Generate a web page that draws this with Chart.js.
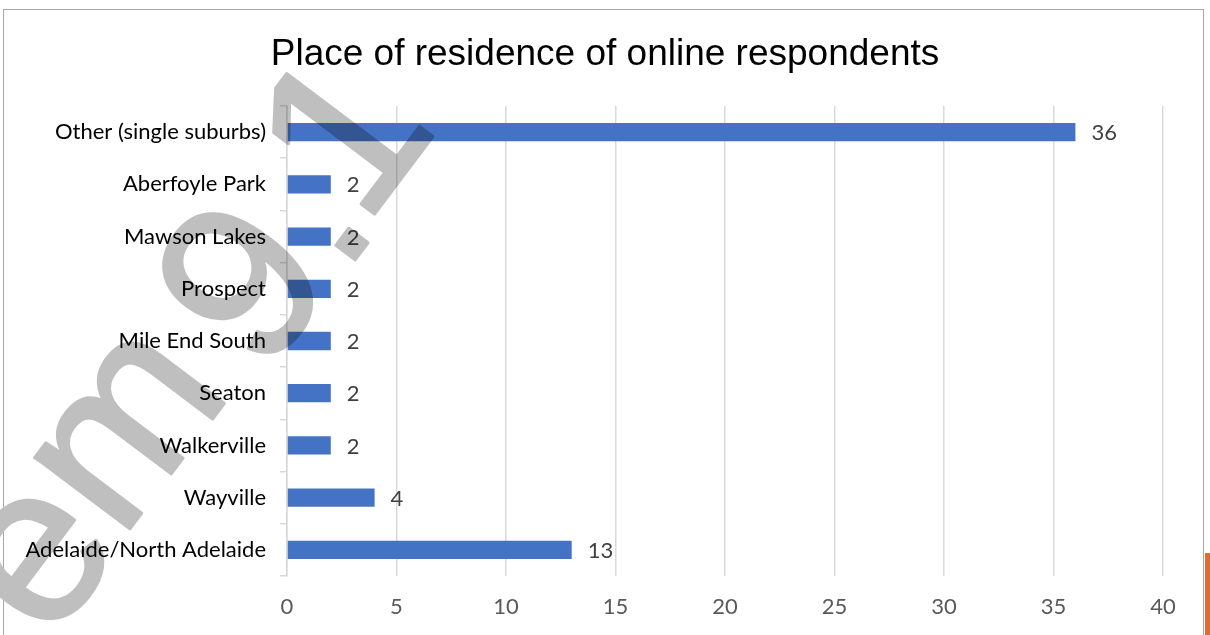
<!DOCTYPE html>
<html>
<head>
<meta charset="utf-8">
<script src="https://cdn.jsdelivr.net/npm/chart.js@4.4.1/dist/chart.umd.min.js"></script>
<style>
  html, body { margin: 0; padding: 0; background: #fff; }
  #wrap { position: relative; width: 1210px; height: 635px; overflow: hidden; }
  #frame { position: absolute; left: 3px; top: 9px; width: 1199px; height: 640px; border: 1px solid #a6a6a6; }
  #edge { position: absolute; left: 1205px; top: 553px; width: 5px; height: 82px; background: #e06c35; }
  canvas { position: absolute; left: 0; top: 0; }
</style>
</head>
<body>
<div id="wrap">
  <div id="frame"></div>
  <div id="edge"></div>
  <canvas id="myChart" width="1210" height="635"></canvas>
</div>
<script>
// place of residence, top to bottom
var suburbs = [
  'Other (single suburbs)',
  'Aberfoyle Park',
  'Mawson Lakes',
  'Prospect',
  'Mile End South',
  'Seaton',
  'Walkerville',
  'Wayville',
  'Adelaide/North Adelaide',
];
var respondents = [36, 2, 2, 2, 2, 2, 2, 4, 13];
var xTicks = [0, 5, 10, 15, 20, 25, 30, 35, 40];

var chartTitle = 'Place of residence of online respondents';
var labelFont = 'Lato, "Open Sans", sans-serif';

// title centred on the whole canvas, not just the plot
var titleText = {
  id: 'titleText',
  afterDraw: function (chart) {
    var ctx = chart.ctx;
    ctx.save();
    ctx.font = '37px "Liberation Sans", Arial, sans-serif';
    ctx.fillStyle = '#000';
    ctx.textAlign = 'center';
    ctx.textBaseline = 'alphabetic';
    ctx.fillText(chartTitle, chart.width / 2, 65);
    ctx.restore();
  },
};

// numbers at the end of each bar
var valueLabels = {
  id: 'valueLabels',
  afterDatasetsDraw: function (chart) {
    var ctx = chart.ctx;
    var meta = chart.getDatasetMeta(0);
    ctx.save();
    ctx.font = '22px ' + labelFont;
    ctx.fillStyle = '#404040';
    ctx.textAlign = 'left';
    ctx.textBaseline = 'middle';
    meta.data.forEach(function (bar, i) {
      ctx.fillText(String(respondents[i]), bar.x + 16, bar.y + 1);
    });
    ctx.restore();
  },
};

// grey stamp running diagonally over the left side
var stamp = {
  id: 'stamp',
  afterDraw: function (chart) {
    // glyph, position along the slant, baseline
    var glyphs = [['e', -423, 428], ['m', -266, 422], ['9', -80, 438], ['.', 17, 440], ['1', 100, 428]];
    var off = document.createElement('canvas');
    off.width = chart.width;
    off.height = chart.height;
    var o = off.getContext('2d');
    o.rotate(-53 * Math.PI / 180);
    o.font = '225px "Liberation Sans", Arial, sans-serif';
    o.fillStyle = '#bfbfbf';
    o.strokeStyle = '#bfbfbf';
    o.lineWidth = 3;
    o.lineJoin = 'round';
    o.textAlign = 'center';
    o.textBaseline = 'alphabetic';
    glyphs.forEach(function (g) {
      o.fillText(g[0], g[1], g[2]);
      o.strokeText(g[0], g[1], g[2]);
    });

    var ctx = chart.ctx;
    ctx.save();
    ctx.globalCompositeOperation = 'multiply';
    ctx.drawImage(off, 0, 0);
    ctx.restore();
  },
};

var ctx = document.getElementById('myChart').getContext('2d');
var myChart = new Chart(ctx, {
  type: 'bar',
  data: {
    labels: suburbs,
    datasets: [
      {
        label: 'Respondents',
        data: respondents,
        backgroundColor: '#4472c4',
        barPercentage: 0.7,
        categoryPercentage: 0.5,
      },
    ],
  },
  options: {
    indexAxis: 'y',
    responsive: false,
    animation: false,
    layout: {
      padding: { top: 106, right: 47, bottom: 0, left: 0 },
    },
    plugins: {
      legend: { display: false },
      tooltip: { enabled: false },
      title: { display: false },
    },
    scales: {
      x: {
        min: 0,
        max: 40,
        afterBuildTicks: function (scale) {
          scale.ticks = xTicks.map(function (v) { return { value: v }; });
        },
        afterFit: function (scale) {
          scale.height = 59;
        },
        ticks: {
          color: '#595959',
          font: { family: labelFont, size: 22 },
          padding: 18,
          maxRotation: 0,
        },
        grid: {
          color: '#d9d9d9',
          lineWidth: 1.5,
          drawTicks: false,
        },
        border: { display: false },
      },
      y: {
        afterFit: function (scale) {
          scale.width = 287;
        },
        ticks: {
          color: '#000',
          font: { family: labelFont, size: 22 },
          padding: 14,
        },
        grid: {
          offset: true,
          drawOnChartArea: false,
          drawTicks: true,
          tickLength: 7,
          color: '#d9d9d9',
          lineWidth: 1.5,
        },
        border: { display: true, color: '#d9d9d9', width: 1.5 },
      },
    },
  },
  plugins: [titleText, valueLabels, stamp],
});
</script>
</body>
</html>
